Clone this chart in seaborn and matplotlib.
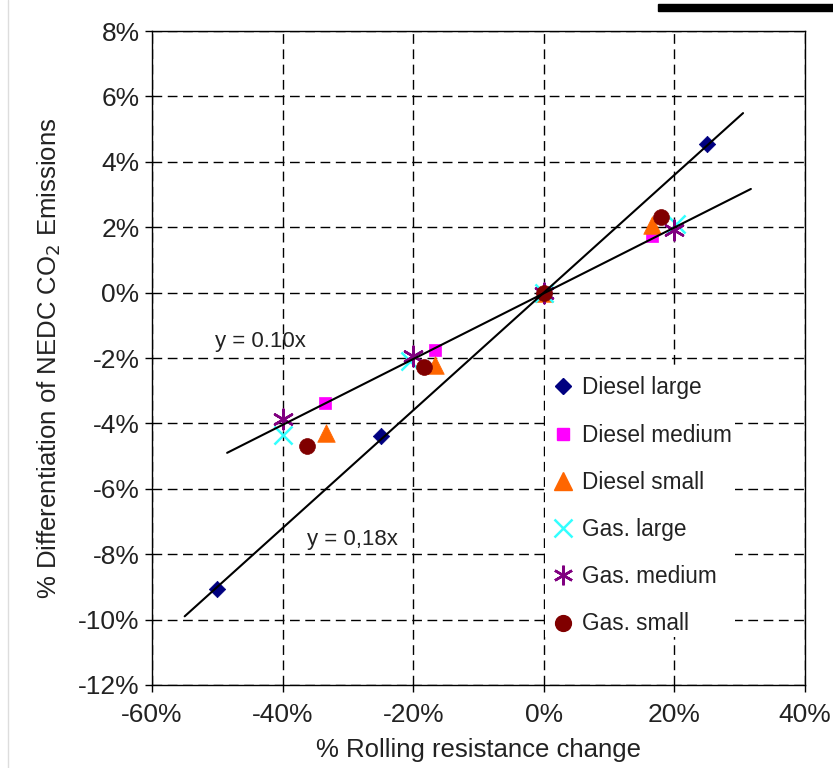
import matplotlib
matplotlib.use("Agg")
import matplotlib.pyplot as plt
from matplotlib.patches import Rectangle
from matplotlib.lines import Line2D
import seaborn as sns
import pandas as pd

sns.set_theme(style="white")
plt.rcParams['font.family'] = ['Liberation Sans', 'DejaVu Sans']

# ---- data ----
series_names = ["Diesel large", "Diesel medium", "Diesel small",
                "Gas. large", "Gas. medium", "Gas. small"]

diesel_large_x = [-50, -25, 0, 25]
diesel_large_y = [-9.05, -4.4, 0.0, 4.53]
diesel_medium_x = [-33.5, -16.7, 0, 16.5]
diesel_medium_y = [-3.39, -1.74, 0.0, 1.74]
diesel_small_x = [-33.3, -16.6, 0, 16.6]
diesel_small_y = [-4.3, -2.2, 0.0, 2.08]
gas_large_x = [-40, -20.5, 0, 20.3]
gas_large_y = [-4.35, -2.1, 0.0, 2.1]
gas_medium_x = [-40, -20, 0, 20]
gas_medium_y = [-3.88, -1.93, 0.0, 1.93]
gas_small_x = [-36.3, -18.3, 0, 17.9]
gas_small_y = [-4.68, -2.29, 0.0, 2.32]

fit18_x = [-55, 30.5]
fit18_y = [-9.9, 5.49]
fit10_x = [-48.5, 31.7]
fit10_y = [-4.9, 3.17]

x_ticks = [-60, -40, -20, 0, 20, 40]
y_ticks = [-12, -10, -8, -6, -4, -2, 0, 2, 4, 6, 8]

series_x = [diesel_large_x, diesel_medium_x, diesel_small_x,
            gas_large_x, gas_medium_x, gas_small_x]
series_y = [diesel_large_y, diesel_medium_y, diesel_small_y,
            gas_large_y, gas_medium_y, gas_small_y]
colors = ["#000080", "#FF00FF", "#FF6600", "#33FFFF", "#800080", "#800000"]
markers = ["D", "s", "^", "x", (6, 2, 0), "o"]
sizes = [70, 70, 160, 170, 200, 130]

fig = plt.figure(figsize=(8.33, 7.68), dpi=100)
ax = fig.add_axes([0.1825, 0.1081, 0.784, 0.8515])

# fit lines
sns.lineplot(x=fit18_x, y=fit18_y, ax=ax, color="black", lw=1.5, zorder=3,
             sort=False)
sns.lineplot(x=fit10_x, y=fit10_y, ax=ax, color="black", lw=1.5, zorder=3,
             sort=False)

handles = []
for name, xs, ys, c, m, s in zip(series_names, series_x, series_y, colors,
                                 markers, sizes):
    df = pd.DataFrame({"x": xs, "y": ys})
    filled = m not in ("x", (6, 2, 0))
    if filled:
        sns.scatterplot(data=df, x="x", y="y", ax=ax, marker=m, color=c,
                        s=s, edgecolor=c, linewidth=0.5, zorder=2)
        h = Line2D([], [], marker=m, color=c, ls="none",
                   markersize=(s ** 0.5), markeredgecolor=c)
    else:
        sns.scatterplot(data=df, x="x", y="y", ax=ax, marker=m, color=c,
                        s=s, linewidth=1.8, zorder=2)
        h = Line2D([], [], marker=m, color=c, ls="none",
                   markersize=(s ** 0.5), markeredgewidth=1.8)
    handles.append(h)

ax.set_xlim(-60, 40)
ax.set_ylim(-12, 8)
ax.set_xticks(x_ticks)
ax.set_yticks(y_ticks)
ax.set_xticklabels([f"{t}%" for t in x_ticks], fontsize=19)
ax.set_yticklabels([f"{t}%" for t in y_ticks], fontsize=19)
ax.tick_params(direction="out", length=5, width=1, color="black",
               bottom=True, left=True, pad=4, labelcolor="#222222")
ax.tick_params(axis="x", pad=8)
ax.grid(True, color="black", linestyle=(0, (7, 4)), linewidth=1)
for sp in ax.spines.values():
    sp.set_color("black")
    sp.set_linewidth(1)

ax.set_xlabel("% Rolling resistance change", fontsize=18.5, color="#222222",
              labelpad=8)
ax.set_ylabel("% Differentiation of NEDC CO$_2$ Emissions", fontsize=18.5,
              color="#222222", labelpad=11)

ax.text(-50.3, -1.5, "y = 0.10x", fontsize=16, color="#222222",
        va="center", ha="left")
ax.text(-36.3, -7.55, "y = 0,18x", fontsize=16, color="#222222",
        va="center", ha="left")

# white legend area hiding the grid
ax.add_patch(Rectangle((0.602, 0.0734), 0.291, 0.4156,
                       transform=ax.transAxes, facecolor="white",
                       edgecolor="none", zorder=1))

leg = ax.legend(handles, series_names, loc="upper left",
                bbox_to_anchor=(0.608, 0.472), frameon=False, fontsize=16.3,
                labelspacing=1.07, handletextpad=0.25, handlelength=1.2,
                borderaxespad=0, borderpad=0)
for t in leg.get_texts():
    t.set_color("#222222")

# page artifacts
fig.patches.append(Rectangle((658 / 833, 1 - 11 / 768), 175 / 833, 7 / 768,
                             transform=fig.transFigure, color="black",
                             zorder=10))
fig.lines.append(Line2D([8 / 833, 8 / 833], [0, 1], transform=fig.transFigure,
                        color="#dddddd", lw=1))

fig.savefig("out.png", dpi=100)
